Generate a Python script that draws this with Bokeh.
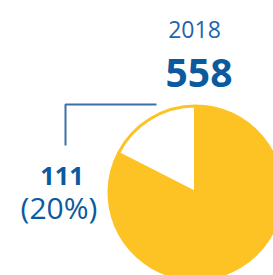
from bokeh.plotting import figure
from bokeh.models import Range1d
from bokeh.embed import file_html
from bokeh.resources import INLINE
from bokeh.core.properties import value
import math

# ---- data ----
year = "2018"
total = 558
slice_value = 111
slice_pct = 20
# shares of the pie as drawn in the picture (small slice first, from 12 o'clock)
shares = [17.5, 82.5]
slice_colors = ["#ffffff", "#fdc325"]

BLUE_DARK = "#0c5a9e"
BLUE_LIGHT = "#2165aa"
LINE_BLUE = "#3a70a6"
YELLOW = "#fdc325"
FONT = "Open Sans"

W, H = 273, 275
p = figure(width=W, height=H, output_backend="svg", toolbar_location=None,
           x_range=Range1d(0, W), y_range=Range1d(-H, 0),
           min_border=0, tools="")
p.axis.visible = False
p.grid.visible = False
p.outline_line_color = None
p.background_fill_color = "white"
p.border_fill_color = "white"

cx, cy, r = 195, -192, 88

# pie wedges
angles = []
a = math.pi / 2
for s in shares:
    b = a + s / 100 * 2 * math.pi
    angles.append((a, b))
    a = b

# big slice first
p.wedge(x=cx, y=cy, radius=r, start_angle=angles[1][0], end_angle=angles[1][1],
        fill_color=slice_colors[1], line_color=None)
p.wedge(x=cx, y=cy, radius=r - 1.5, start_angle=angles[0][0], end_angle=angles[0][1],
        fill_color=slice_colors[0], line_color=YELLOW, line_width=3)

# leader line
p.line(x=[65, 65, 156], y=[-145, -104, -104], line_color=LINE_BLUE, line_width=2)

# texts
p.text(x=[194], y=[-29], text=[year], text_font=value(FONT), text_font_size="23px",
       text_color=BLUE_LIGHT, text_align="center", text_baseline="alphabetic")
p.text(x=[198.5], y=[-72], text=[str(total)], text_font=value(FONT), text_font_size="39px",
       text_font_style="bold", text_color=BLUE_DARK, text_align="center",
       text_baseline="alphabetic")
p.text(x=[61.5], y=[-175], text=[str(slice_value)], text_font=value(FONT),
       text_font_size="25.5px", text_font_style="bold", text_color=BLUE_DARK,
       text_align="center", text_baseline="alphabetic")
p.text(x=[58.5], y=[-207], text=[f"({slice_pct}%)"], text_font=value(FONT),
       text_font_size="30px", text_color=BLUE_DARK, text_align="center",
       text_baseline="alphabetic")

open("out.html", "w").write(file_html(p, INLINE))
